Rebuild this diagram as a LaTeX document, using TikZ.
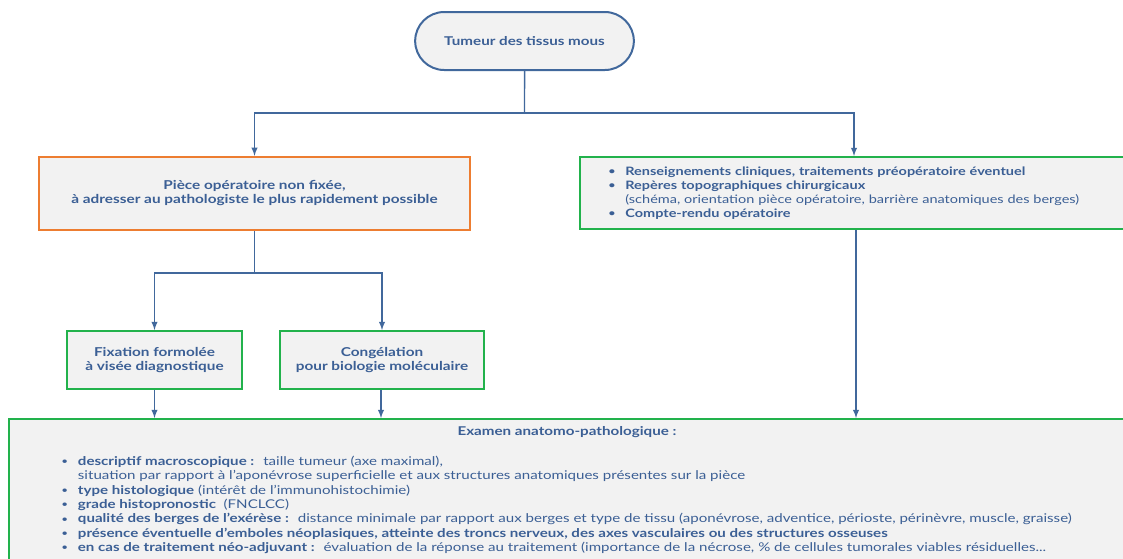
\documentclass[tikz,border=0pt]{standalone}
\usepackage{fontspec}
\setmainfont{Lato}[FakeStretch=1.25]
\usetikzlibrary{shapes,positioning}
\definecolor{txtblue}{HTML}{3B5F95}
\definecolor{lineblue}{HTML}{41689C}
\definecolor{boxgray}{HTML}{F2F2F2}
\definecolor{boxgreen}{HTML}{22B24C}
\definecolor{boxorange}{HTML}{ED7D31}
\newcommand{\bul}{\makebox[12.5pt][l]{\raisebox{0.6pt}{\scriptsize\textbullet}}}
\tikzset{box/.style={rectangle,draw,fill=boxgray,line width=1.5pt,text=txtblue,align=center,inner sep=0pt,font=\bfseries\fontsize{9.2}{10.5}\selectfont},
  grn/.style={box,draw=boxgreen},
  org/.style={box,draw=boxorange},
  rnd/.style={box,rounded rectangle,draw=lineblue,font=\bfseries\fontsize{9.1}{11}\selectfont},
  lst/.style={text=txtblue,align=left,inner sep=0pt,font=\fontsize{9.05}{10.75}\selectfont},
  fl/.style={lineblue,line width=1.1pt}}

\begin{document}
\begin{tikzpicture}[>=latex,x=0.75pt,y=-0.75pt]
        \useasboundingbox[fill=white] (0,0) rectangle (1123,558);
        \node[rnd,minimum width=164pt,minimum height=43.5pt] (tumeur) at (524.5,41) {Tumeur des tissus mous};
        \node[org,minimum width=323pt,minimum height=55pt] (piece) at (254.5,193.5) {Pièce opératoire non fixée,\\ à adresser au pathologiste le plus rapidement possible};
        \node[grn,minimum width=411pt,minimum height=54pt,text width=368pt,align=left,font=\bfseries\fontsize{8.7}{10.5}\selectfont] (rens) at (854,193) {%
          \bul Renseignements cliniques, traitements préopératoire éventuel\\
          \bul Repères topographiques chirurgicaux\\
          \hspace*{12.5pt}{\mdseries(schéma, orientation pièce opératoire, barrière anatomiques des berges)}\\
          \bul Compte-rendu opératoire};
        \node[grn,minimum width=131pt,minimum height=43.5pt] (fix) at (154.5,360) {Fixation formolée\\ à visée diagnostique};
        \node[grn,minimum width=153pt,minimum height=43.5pt] (cong) at (382,360) {Congélation\\ pour biologie moléculaire};
        \node[grn,anchor=north west,minimum width=840pt,minimum height=110pt] (examen) at (8,418) {};
        \node[text=txtblue,font=\bfseries\fontsize{9.1}{10}\selectfont] (titre) at (567,432) {Examen anatomo-pathologique :};
        \node[lst,anchor=north west] (liste) at (61,456) {%
          \bul\textbf{descriptif macroscopique :}~ taille tumeur (axe maximal),\\
          \hspace*{12.5pt}situation par rapport à l'aponévrose superficielle et aux structures anatomiques présentes sur la pièce\\
          \bul\textbf{type histologique} (intérêt de l'immunohistochimie)\\
          \bul\textbf{grade histopronostic} ~(FNCLCC)\\
          \bul\textbf{qualité des berges de l'exérèse :}~ distance minimale par rapport aux berges et type de tissu (aponévrose, adventice, périoste, périnèvre, muscle, graisse)\\
          \bul\textbf{présence éventuelle d'emboles néoplasiques, atteinte des troncs nerveux, des axes vasculaires ou des structures osseuses}\\
          \bul\textbf{en cas de traitement néo-adjuvant :}~ évaluation de la réponse au traitement (importance de la nécrose, \% de cellules tumorales viables résiduelles...};

        \coordinate (j1) at (524.5,113);
        \coordinate (j2) at (254.5,273);
        \draw [fl] (tumeur) to (j1);
        \draw [fl,->] (j1) -| (piece);
        \draw [fl,->] (j1) -| (rens);
        \draw [fl] (piece) to (j2);
        \draw [fl,->] (j2) -| (fix);
        \draw [fl,->] (j2) -| (cong);
        \draw [fl,->] (fix) to (fix |- examen.north);
        \draw [fl,->] ([xshift=-0.75pt]cong.south) to ([xshift=-0.75pt]cong.south |- examen.north);
        \draw [fl,->] ([xshift=1.5pt]rens.south) to ([xshift=1.5pt]rens.south |- examen.north);
    \end{tikzpicture}
\end{document}
